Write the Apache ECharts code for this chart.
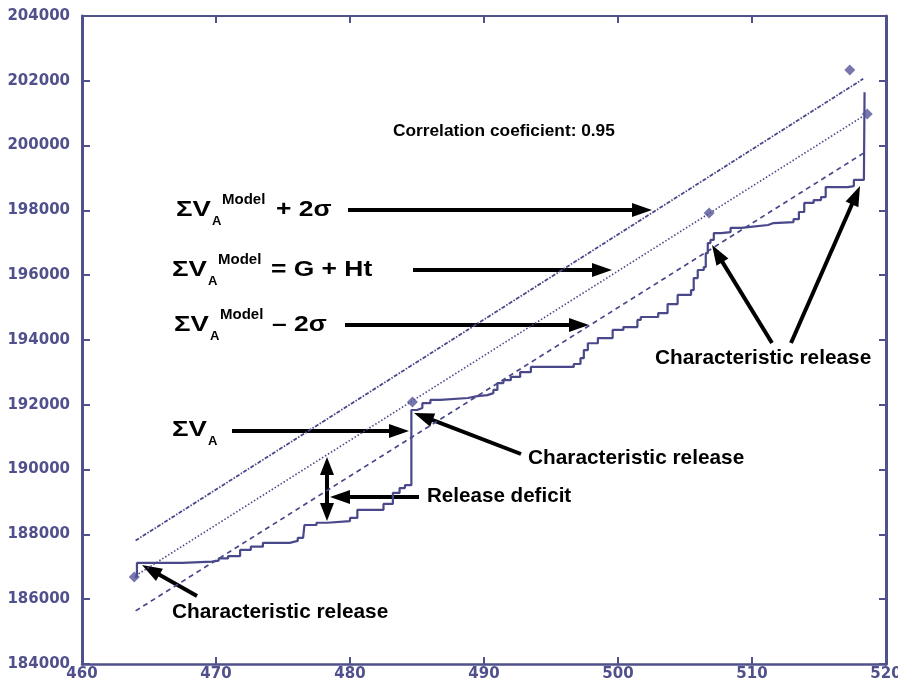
<!DOCTYPE html>
<html>
<head>
<meta charset="utf-8">
<script src="https://cdn.jsdelivr.net/npm/echarts@6/dist/echarts.min.js"></script>
<style>
  html, body { margin: 0; padding: 0; background: #fff; }
  #chart { width: 898px; height: 686px; }
</style>
</head>
<body>
<div id="chart"></div>
<script>
// Axis ranges and ticks
const xMin = 460, xMax = 520, xStep = 10;
const yMin = 184000, yMax = 204000, yStep = 2000;

// Cumulative volume ΣV_A: event times and value reached at each event
const stepT = [463.95, 464.1, 467.5, 469.7, 470.2, 470.9, 471.8, 472.6, 473.5, 475.5,
  476.1, 476.5, 476.6, 477.5, 478.3, 480.0, 480.55, 482.5, 483.2, 483.7,
  484.1, 484.58, 485.0, 485.4, 486.0, 486.75, 488.8, 489.5, 490.25, 490.7,
  491.0, 491.45, 492.0, 492.7, 493.5, 496.7, 497.2, 497.45, 497.75, 498.5,
  499.6, 500.4, 501.45, 501.7, 503.0, 503.7, 504.45, 505.45, 505.65, 505.95,
  506.4, 506.55, 506.7, 506.9, 507.15, 507.7, 508.4, 509.2, 509.9, 511.2,
  511.6, 513.1, 513.5, 513.9, 514.6, 515.15, 515.5, 517.15, 517.6, 518.35, 518.4];
const stepV = [186690, 187120, 187160, 187190, 187260, 187330, 187520, 187620, 187740, 187800,
  187890, 187950, 188290, 188360, 188410, 188510, 188760, 188940, 189280, 189430,
  189520, 191840, 191900, 192050, 192150, 192210, 192270, 192300, 192360, 192460,
  192670, 192760, 192860, 193010, 193170, 193260, 193440, 193690, 193900, 194060,
  194310, 194400, 194620, 194710, 194830, 195110, 195390, 195540, 195910, 196160,
  196250, 196680, 196990, 197090, 197300, 197330, 197460, 197490, 197550, 197610,
  197640, 197730, 197950, 198230, 198320, 198410, 198720, 198750, 198940, 199000, 201650];

// Model line G + Ht and the ±2σ band (end points)
const bandT = [464.0, 518.3];
const modelV = [186725, 200910];
const upperV = [187810, 202060];
const lowerV = [185640, 199760];

// Characteristic release points
const relT = [463.9, 484.66, 506.8, 517.3, 518.6];
const relV = [186685, 192086, 197920, 202333, 200975];

const zip = (a, b) => a.map((v, i) => [v, b[i]]);

const INK = '#48488a';
const AXIS = '#50508c';
const TXT = '#000';
const FONT = '"Liberation Sans", Arial, Helvetica, sans-serif';

// ---- annotation helpers (pixel layout) ----
function arrowHead(tx, ty, fx, fy, len, half) {
  const dx = tx - fx, dy = ty - fy, d = Math.hypot(dx, dy);
  const ux = dx / d, uy = dy / d;
  const bx = tx - ux * len, by = ty - uy * len;
  return {
    type: 'polygon',
    shape: { points: [[tx, ty], [bx - uy * half, by + ux * half], [bx + uy * half, by - ux * half]] },
    style: { fill: TXT }
  };
}
function arrow(x1, y1, x2, y2, opts) {
  const o = Object.assign({ len: 20, half: 7, width: 4, both: false }, opts || {});
  const dx = x2 - x1, dy = y2 - y1, d = Math.hypot(dx, dy);
  const ux = dx / d, uy = dy / d;
  const sx = o.both ? x1 + ux * (o.len - 2) : x1;
  const sy = o.both ? y1 + uy * (o.len - 2) : y1;
  const out = [{
    type: 'line',
    shape: { x1: sx, y1: sy, x2: x2 - ux * (o.len - 2), y2: y2 - uy * (o.len - 2) },
    style: { stroke: TXT, lineWidth: o.width }
  }, arrowHead(x2, y2, x1, y1, o.len, o.half)];
  if (o.both) out.push(arrowHead(x1, y1, x2, y2, o.len, o.half));
  return out;
}
function label(x, y, text, size, extra) {
  return Object.assign({
    type: 'text', x: x, y: y,
    style: { text: text, fill: TXT, font: 'bold ' + size + 'px ' + FONT, verticalAlign: 'middle', align: 'left' }
  }, extra || {});
}
// ΣV_A with superscript "Model" and a trailing expression
function formula(x, y, tail, tailX) {
  const g = [label(x, y, 'ΣV', 22, { scaleX: 1.25 }),
             label(x + 36, y + 11, 'A', 13)];
  if (tail !== null) {
    g.push(label(x + 46, y - 10, 'Model', 15));
    g.push(label(tailX, y, tail, 22, { scaleX: 1.2 }));
  }
  return g;
}

const graphics = [].concat(
  label(393, 131, 'Correlation coeficient: 0.95', 17.3),
  formula(176, 210, '+ 2σ', 276),
  arrow(348, 210, 652, 210),
  formula(172, 270, '= G + Ht', 271),
  arrow(413, 270, 612, 270),
  formula(174, 325, '– 2σ', 272),
  arrow(345, 325, 589, 325),
  formula(172, 430, null),
  arrow(232, 431, 409, 431),
  arrow(419, 497, 330, 497),
  arrow(327, 457, 327, 521, { both: true, len: 18, half: 7 }),
  label(427, 496, 'Release deficit', 20.6),
  arrow(521, 454, 414, 413),
  label(528, 458, 'Characteristic release', 20.8),
  arrow(197, 596, 142, 565),
  label(172, 612, 'Characteristic release', 20.8),
  arrow(772, 343, 712, 245),
  arrow(791, 343, 860, 186),
  label(655, 358, 'Characteristic release', 20.8)
);

const chart = echarts.init(document.getElementById('chart'));
const tickLabel = {
  color: AXIS, fontFamily: '"DejaVu Sans", sans-serif', fontWeight: 'bold', fontSize: 15,
  formatter: v => String(v)
};

chart.setOption({
  animation: false,
  backgroundColor: '#fff',
  grid: { left: 82, right: 12, top: 16, bottom: 22, containLabel: false, outerBoundsMode: 'none' },
  xAxis: [{
    type: 'value', min: xMin, max: xMax, interval: xStep, position: 'bottom',
    axisLine: { lineStyle: { color: AXIS, width: 2.5 } },
    axisTick: { inside: true, length: 7, lineStyle: { color: AXIS, width: 2 } },
    axisLabel: Object.assign({ margin: 3 }, tickLabel),
    splitLine: { show: false }
  }, {
    type: 'value', min: xMin, max: xMax, interval: xStep, position: 'top',
    axisLine: { onZero: false, lineStyle: { color: AXIS, width: 2, type: [2, 1] } },
    axisTick: { inside: true, length: 7, lineStyle: { color: AXIS, width: 2 } },
    axisLabel: { show: false }, splitLine: { show: false }
  }],
  yAxis: [{
    type: 'value', min: yMin, max: yMax, interval: yStep, position: 'left',
    axisLine: { show: true, onZero: false, lineStyle: { color: AXIS, width: 3 } },
    axisTick: { show: true, inside: true, length: 8, lineStyle: { color: AXIS, width: 2 } },
    axisLabel: Object.assign({ margin: 12 }, tickLabel),
    splitLine: { show: false }
  }, {
    type: 'value', min: yMin, max: yMax, interval: yStep, position: 'right',
    axisLine: { show: true, onZero: false, lineStyle: { color: AXIS, width: 3 } },
    axisTick: { show: true, inside: true, length: 7, lineStyle: { color: AXIS, width: 2 } },
    axisLabel: { show: false }, splitLine: { show: false }
  }],
  series: [{
    name: 'ΣV_A Model + 2σ', type: 'line', data: zip(bandT, upperV), symbol: 'none',
    lineStyle: { color: INK, width: 1.8, type: [4, 1.5, 1.5, 1.5] }, z: 2
  }, {
    name: 'ΣV_A Model', type: 'line', data: zip(bandT, modelV), symbol: 'none',
    lineStyle: { color: INK, width: 1.6, type: [1.5, 2] }, z: 2
  }, {
    name: 'ΣV_A Model − 2σ', type: 'line', data: zip(bandT, lowerV), symbol: 'none',
    lineStyle: { color: INK, width: 1.7, type: [5, 4] }, z: 2
  }, {
    name: 'ΣV_A', type: 'line', step: 'end', data: zip(stepT, stepV), symbol: 'none',
    lineStyle: { color: INK, width: 2.2 }, z: 3
  }, {
    name: 'Characteristic release', type: 'scatter', data: zip(relT, relV),
    symbol: 'diamond', symbolSize: 11, itemStyle: { color: '#55559a' }, z: 4
  }],
  graphic: graphics
});
</script>
</body>
</html>
